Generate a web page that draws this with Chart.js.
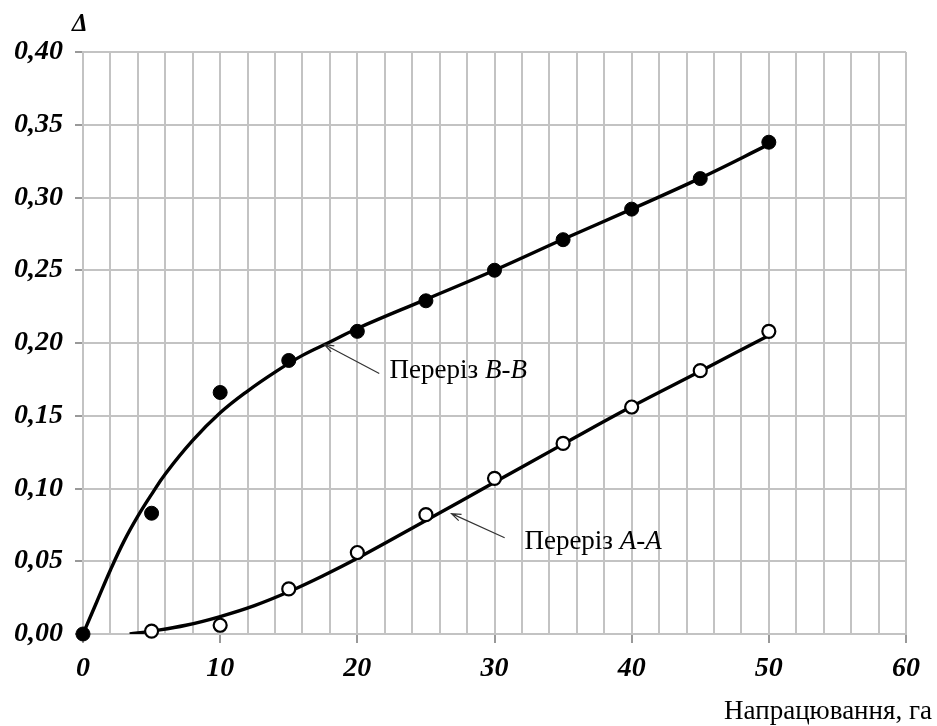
<!DOCTYPE html>
<html>
<head>
<meta charset="utf-8">
<script src="https://cdn.jsdelivr.net/npm/chart.js@4"></script>
<style>
  html, body { margin: 0; padding: 0; background: #fff; }
  #wrap { width: 937px; height: 726px; }
</style>
</head>
<body>
<div id="wrap"><canvas id="chart" width="937" height="726"></canvas></div>
<script>
// measured points, section B-B (filled) and A-A (open)
const bbX = [0, 5, 10, 15, 20, 25, 30, 35, 40, 45, 50];
const bbY = [0.000, 0.083, 0.166, 0.188, 0.208, 0.229, 0.250, 0.271, 0.292, 0.313, 0.338];
const aaX = [5, 10, 15, 20, 25, 30, 35, 40, 45, 50];
const aaY = [0.002, 0.006, 0.031, 0.056, 0.082, 0.107, 0.131, 0.156, 0.181, 0.208];

// fitted curves
const bbFitX = [0, 1, 2, 3, 4, 5, 6, 8, 10, 12, 14, 16, 18, 20, 25, 30, 35, 40, 45, 50];
const bbFitY = [0, 0.022, 0.044, 0.064, 0.081, 0.096, 0.110, 0.133, 0.152, 0.167, 0.180, 0.1915, 0.2007, 0.210, 0.230, 0.250, 0.2713, 0.292, 0.3133, 0.3365];
const aaFitX = [3.4, 5, 7.5, 10, 12.5, 15, 17.5, 20, 25, 30, 35, 40, 45, 50];
const aaFitY = [0, 0.002, 0.006, 0.012, 0.0195, 0.029, 0.040, 0.052, 0.078, 0.1043, 0.1305, 0.1563, 0.1806, 0.2052];

const serif = '"Liberation Serif", "Times New Roman", serif';
const gridGray = '#c3c3c3';

const toXY = (xs, ys) => xs.map((x, i) => ({ x, y: ys[i] }));

// labels, arrows and axis captions
const notes = {
  id: 'notes',
  afterDraw(chart) {
    const { ctx, scales: { x, y } } = chart;
    const px = v => x.getPixelForValue(v);
    const py = v => y.getPixelForValue(v);

    ctx.save();
    ctx.fillStyle = '#000';
    ctx.textBaseline = 'alphabetic';

    // Δ over the y axis
    ctx.font = `bold italic 25px ${serif}`;
    ctx.textAlign = 'left';
    ctx.fillText('Δ', 72, 31);

    // x axis caption
    ctx.font = `27px ${serif}`;
    ctx.textAlign = 'right';
    ctx.fillText('Напрацювання, га', 932, 719);

    const arrow = (tx, ty, sx, sy) => {
      const x1 = px(sx), y1 = py(sy), x2 = px(tx), y2 = py(ty);
      const a = Math.atan2(y2 - y1, x2 - x1);
      ctx.strokeStyle = '#333';
      ctx.lineWidth = 1.2;
      ctx.beginPath();
      ctx.moveTo(x1, y1);
      ctx.lineTo(x2, y2);
      ctx.moveTo(x2 - 10 * Math.cos(a - 0.35), y2 - 10 * Math.sin(a - 0.35));
      ctx.lineTo(x2, y2);
      ctx.lineTo(x2 - 10 * Math.cos(a + 0.35), y2 - 10 * Math.sin(a + 0.35));
      ctx.stroke();
    };

    const label = (vx, vy, name) => {
      let cx = px(vx);
      const cy = py(vy);
      ctx.textAlign = 'left';
      ctx.font = `27px ${serif}`;
      ctx.fillText('Переріз ', cx, cy);
      cx += ctx.measureText('Переріз ').width;
      ctx.font = `italic 27px ${serif}`;
      ctx.fillText(name, cx, cy);
    };

    arrow(17.6, 0.199, 21.6, 0.179);
    label(22.35, 0.176, 'B-B');
    arrow(26.87, 0.0827, 30.74, 0.0662);
    label(32.18, 0.0587, 'A-A');

    ctx.restore();
  }
};

new Chart(document.getElementById('chart'), {
  type: 'scatter',
  data: {
    datasets: [
      {
        data: toXY(bbFitX, bbFitY),
        showLine: true,
        tension: 0.4,
        borderColor: '#000',
        borderWidth: 3.4,
        pointRadius: 0,
        order: 2
      },
      {
        data: toXY(aaFitX, aaFitY),
        showLine: true,
        tension: 0.4,
        borderColor: '#000',
        borderWidth: 3.4,
        pointRadius: 0,
        order: 2
      },
      {
        data: toXY(bbX, bbY),
        pointRadius: 7,
        pointBackgroundColor: '#000',
        pointBorderColor: '#000',
        pointBorderWidth: 1,
        clip: false,
        order: 1
      },
      {
        data: toXY(aaX, aaY),
        pointRadius: 6.5,
        pointBackgroundColor: '#fff',
        pointBorderColor: '#000',
        pointBorderWidth: 2.2,
        clip: false,
        order: 1
      }
    ]
  },
  options: {
    responsive: false,
    animation: false,
    layout: { padding: { top: 52, right: 31, left: 0, bottom: 0 } },
    plugins: {
      legend: { display: false },
      tooltip: { enabled: false }
    },
    scales: {
      x: {
        type: 'linear',
        min: 0,
        max: 60,
        afterFit: s => { s.height = 92; },
        border: { color: gridGray, width: 2 },
        grid: {
          color: gridGray,
          lineWidth: 2,
          tickLength: 9,
          tickColor: c => (c.tick && c.tick.value % 10 === 0 ? '#999' : 'rgba(0,0,0,0)')
        },
        ticks: {
          stepSize: 2,
          autoSkip: false,
          maxRotation: 0,
          padding: 9,
          color: '#000',
          font: { family: serif, size: 28, style: 'italic', weight: 'bold' },
          callback: v => (v % 10 === 0 ? String(v) : '')
        }
      },
      y: {
        min: 0,
        max: 0.4,
        afterFit: s => { s.width = 83; },
        border: { color: gridGray, width: 2 },
        grid: {
          color: gridGray,
          lineWidth: 2,
          tickLength: 8,
          tickColor: '#999'
        },
        ticks: {
          stepSize: 0.05,
          padding: 12,
          color: '#000',
          font: { family: serif, size: 28, style: 'italic', weight: 'bold' },
          callback: v => v.toFixed(2).replace('.', ',')
        }
      }
    }
  },
  plugins: [notes]
});
</script>
</body>
</html>
